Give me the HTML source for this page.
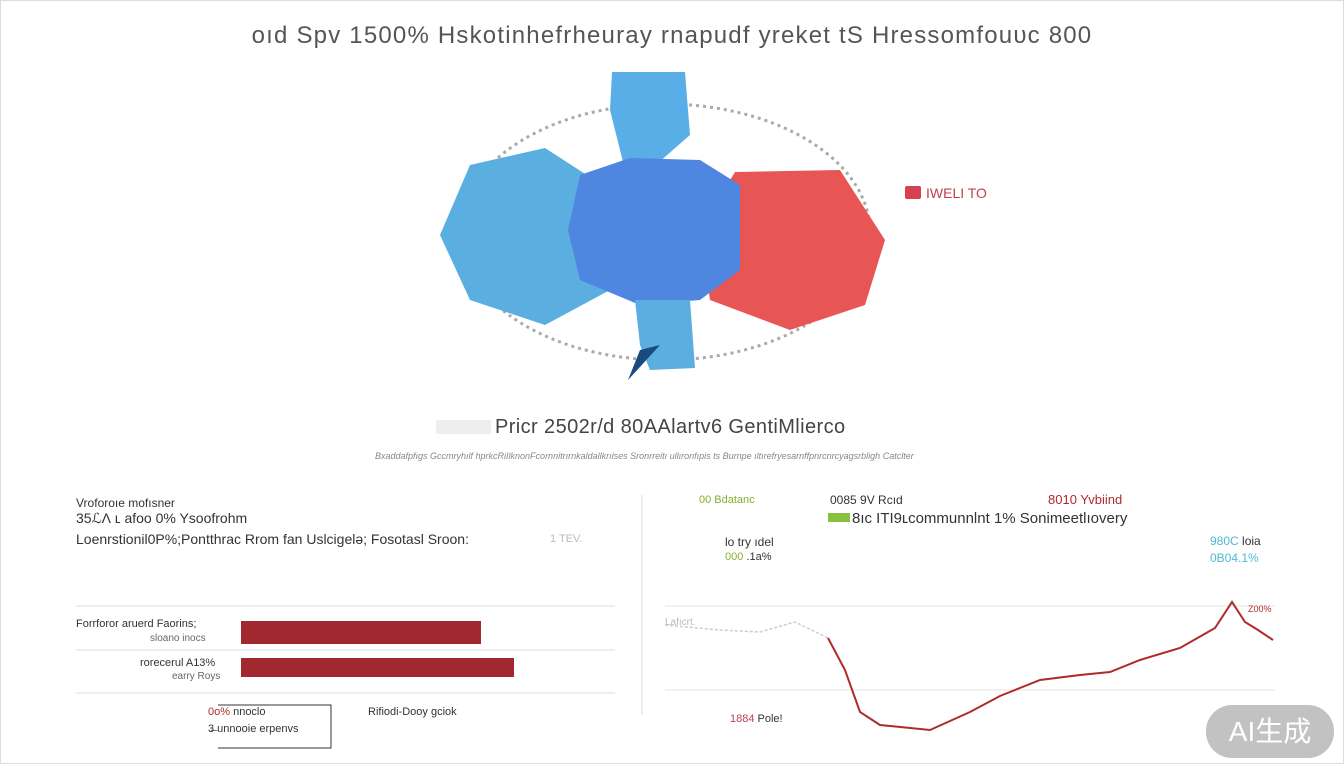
<!DOCTYPE html>
<html><head><meta charset="utf-8"><style>
body{margin:0;width:1344px;height:768px;background:#fff;overflow:hidden;font-family:"Liberation Sans",sans-serif;position:relative}
.t{position:absolute;white-space:nowrap;color:#333}
</style></head><body>
<div style="position:absolute;left:0;top:0;width:1342px;height:762px;border:1px solid #ddd"></div>
<div class="t" style="left:0;width:1344px;text-align:center;top:22px;font-size:24px;letter-spacing:1.2px;color:#555">oıd Spv 1500% Hskotinhefrheuray rnapudf yreket tS Hressomfouᴜᴄ 800</div>
<svg width="1344" height="768" style="position:absolute;left:0;top:0">
<ellipse cx="665" cy="232" rx="205" ry="128" fill="none" stroke="#aaa" stroke-width="3" stroke-dasharray="3 4"/>
<polygon points="470,165 545,148 610,190 610,290 545,325 470,300 440,235" fill="#5aaee0"/>
<polygon points="735,172 840,170 885,240 865,305 790,330 710,300 700,230" fill="#e85555"/>
<polygon points="612,72 685,72 690,135 650,170 625,170 610,110" fill="#5aaee8"/>
<polygon points="580,175 630,158 700,160 740,185 740,270 700,300 640,305 580,280 568,230" fill="#4f86e0"/>
<polygon points="635,300 690,300 695,368 650,370 640,345" fill="#5aaee0"/>
<polygon points="640,350 660,345 628,380" fill="#1a4a80"/>
<rect x="905" y="186" width="16" height="13" rx="2" fill="#d64050"/>
<line x1="76" y1="606" x2="615" y2="606" stroke="#ddd"/>
<line x1="76" y1="650" x2="615" y2="650" stroke="#ddd"/>
<line x1="76" y1="693" x2="615" y2="693" stroke="#ddd"/>
<rect x="241" y="621" width="240" height="23" fill="#a0282e"/>
<rect x="241" y="658" width="273" height="19" fill="#a0282e"/>
<path d="M218 705 H331 V748 H218" fill="none" stroke="#333"/>
<line x1="642" y1="495" x2="642" y2="715" stroke="#ddd"/>
<line x1="665" y1="606" x2="1275" y2="606" stroke="#e6e6e6"/>
<line x1="665" y1="690" x2="1275" y2="690" stroke="#e6e6e6"/>
<path d="M665 625 L720 630 L760 632 L795 622 L828 638" fill="none" stroke="#ccc" stroke-width="1.5" stroke-dasharray="3 2"/>
<path d="M828 638 L845 670 L860 712 L880 725 L930 730 L970 712 L1000 696 L1040 680 L1080 675 L1110 672 L1140 660 L1180 648 L1215 628 L1232 602 L1245 622 L1258 630 L1273 640" fill="none" stroke="#b02a2a" stroke-width="2"/>
<rect x="828" y="513" width="22" height="9" fill="#88c040"/>
</svg>
<div class="t" style="left:926px;top:185px;font-size:14px;color:#c04050">IWELI TO</div>
<div class="t" style="left:436px;top:420px;width:55px;height:14px;background:#eee"></div>
<div class="t" style="left:495px;top:416px;font-size:20px;letter-spacing:0.4px;color:#444">Pricr 2502r/d 80AAlartv6 GentiMlierco</div>
<div class="t" style="left:375px;top:451px;font-size:9px;color:#888;font-style:italic">Bxaddafpfıgs Gccmryhılf hprkcRiIlknonFcornnitrırnkaldallkrılses Sronrreitı ullıronfıpis ts Burnpe ıltırefryesarnffpnrcnrcyagsrbligh Catclter</div>
<div class="t" style="left:76px;top:496px;font-size:12px">Vroforoıe mofısner</div>
<div class="t" style="left:76px;top:510px;font-size:14px">35ℒɅ ʟ afoo 0% Ysoofrohm</div>
<div class="t" style="left:76px;top:531px;font-size:14px">Loenrstionil0P%;Pontthrac Rrom fan Uslcigelə; Fosotasl Sroon:</div>
<div class="t" style="left:550px;top:533px;font-size:11px;color:#bbb">1 TEV.</div>
<div class="t" style="left:76px;top:618px;font-size:11px">Forrforor aruerd Faorins;</div>
<div class="t" style="left:150px;top:633px;font-size:10px;color:#666">sloano inocs</div>
<div class="t" style="left:140px;top:657px;font-size:11px">rorecerul A13%</div>
<div class="t" style="left:172px;top:671px;font-size:10px;color:#666">earry Roys</div>
<div class="t" style="left:208px;top:706px;font-size:11px;color:#b02a2a">0o% <span style="color:#333">nnoclo</span></div>
<div class="t" style="left:208px;top:723px;font-size:11px">3̶ unnooie erpenvs</div>
<div class="t" style="left:368px;top:706px;font-size:11px">Rifiodi-Dooy gciok</div>
<div class="t" style="left:699px;top:494px;font-size:11px;color:#88b030">00 Bdatanc</div>
<div class="t" style="left:830px;top:493px;font-size:12px">0085 9V Rcıd</div>
<div class="t" style="left:1048px;top:492px;font-size:13px;color:#b02a2a">8010 Yvbiind</div>
<div class="t" style="left:852px;top:510px;font-size:15px">8ıc ITI9ʟcommunnlnt 1% Sonimeetlıovery</div>
<div class="t" style="left:725px;top:535px;font-size:12px">lo try ıdel</div>
<div class="t" style="left:725px;top:551px;font-size:11px;color:#88b030">000 <span style="color:#333">.1a%</span></div>
<div class="t" style="left:1210px;top:534px;font-size:12px;color:#50b8d8">980C <span style="color:#333">loia</span></div>
<div class="t" style="left:1210px;top:551px;font-size:12px;color:#50b8d8">0B04.1%</div>
<div class="t" style="left:665px;top:617px;font-size:10px;color:#bbb">Lafıcrt.</div>
<div class="t" style="left:1248px;top:604px;font-size:9px;color:#b02a2a">Z00%</div>
<div class="t" style="left:730px;top:713px;font-size:11px;color:#c04050">1884 <span style="color:#333">Pole!</span></div>
<div style="position:absolute;left:1206px;top:705px;width:128px;height:53px;border-radius:26px;background:#b8b8b8;opacity:.85;color:#fff;font-size:28px;text-align:center;line-height:53px;font-family:'Liberation Sans','Noto Sans CJK SC',sans-serif">AI生成</div>
</body></html>
